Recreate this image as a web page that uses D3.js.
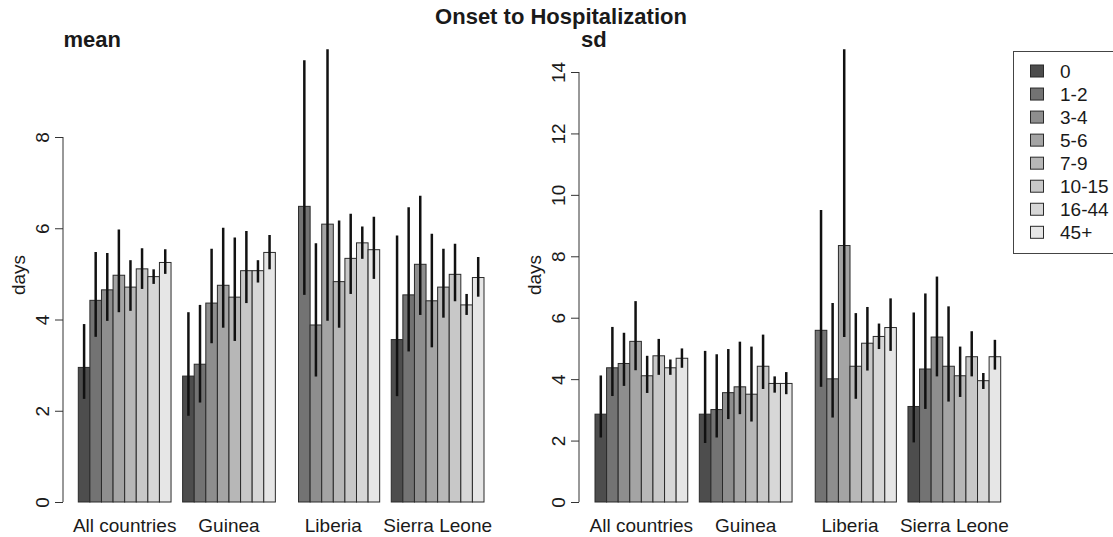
<!DOCTYPE html>
<html>
<head>
<meta charset="utf-8">
<script src="https://cdn.jsdelivr.net/npm/d3@7"></script>
<style>
  body { margin: 0; background: #fff; }
  svg { display: block; font-family: "Liberation Sans", Arial, sans-serif; }
</style>
</head>
<body>
<svg id="svg" width="1113" height="537"></svg>
<script>
// age groups and countries
const ages = ["0", "1-2", "3-4", "5-6", "7-9", "10-15", "16-44", "45+"];
const countries = ["All countries", "Guinea", "Liberia", "Sierra Leone"];

// mean onset-to-hospitalization (days), one row per country, null = no data
const meanVal = [
  [2.95, 4.42, 4.65, 4.97, 4.71, 5.11, 4.94, 5.25],
  [2.76, 3.02, 4.36, 4.75, 4.49, 5.07, 5.07, 5.47],
  [null, 6.48, 3.88, 6.09, 4.83, 5.34, 5.68, 5.53],
  [3.56, 4.54, 5.21, 4.41, 4.71, 4.99, 4.32, 4.92]
];
const meanLow = [
  [2.26, 3.62, 3.97, 4.16, 4.19, 4.67, 4.78, 5.00],
  [1.89, 2.18, 3.48, 3.82, 3.53, 4.36, 4.81, 5.10],
  [null, 4.54, 2.75, 3.97, 3.82, 4.56, 5.33, 4.89],
  [2.32, 3.30, 4.10, 3.39, 4.04, 4.40, 4.10, 4.50]
];
const meanHigh = [
  [3.90, 5.48, 5.46, 5.97, 5.30, 5.56, 5.10, 5.54],
  [4.16, 4.32, 5.55, 6.01, 5.80, 5.94, 5.30, 5.85],
  [null, 9.68, 5.67, 10.5, 6.17, 6.32, 6.04, 6.25],
  [5.84, 6.46, 6.71, 5.88, 5.55, 5.66, 4.56, 5.37]
];

// sd of onset-to-hospitalization (days)
const sdVal = [
  [2.86, 4.37, 4.51, 5.23, 4.11, 4.76, 4.37, 4.68],
  [2.86, 3.01, 3.56, 3.75, 3.51, 4.42, 3.86, 3.86],
  [null, 5.59, 4.01, 8.35, 4.42, 5.17, 5.39, 5.68],
  [3.11, 4.33, 5.37, 4.42, 4.11, 4.73, 3.95, 4.73]
];
const sdLow = [
  [2.10, 3.45, 3.78, 4.29, 3.55, 4.14, 4.14, 4.37],
  [1.92, 2.10, 2.70, 2.86, 2.62, 3.68, 3.56, 3.51],
  [null, 3.75, 2.75, 5.37, 3.36, 4.28, 4.98, 4.92],
  [1.94, 3.03, 4.09, 3.27, 3.42, 4.09, 3.68, 4.31]
];
const sdHigh = [
  [4.12, 5.70, 5.51, 6.54, 4.76, 5.31, 4.64, 5.00],
  [4.92, 4.81, 4.98, 5.22, 5.06, 5.45, 4.09, 4.23],
  [null, 9.51, 6.48, 16.0, 6.15, 6.35, 5.81, 6.63],
  [6.17, 6.79, 7.34, 6.37, 5.06, 5.56, 4.20, 5.28]
];

const meanTicks = [0, 2, 4, 6, 8];
const sdTicks = [0, 2, 4, 6, 8, 10, 12, 14];

const fills = ["#4d4d4d", "#737373", "#8e8e8e", "#a4a4a4", "#b7b7b7", "#c8c8c8", "#d7d7d7", "#e6e6e6"];
const ink = "#1a1a1a";

var svg = d3.select("#svg");
var plotTop = 49.3, baseY = 502;

svg.append("text")
    .attr("x", 561)
    .attr("y", 23.5)
    .attr("text-anchor", "middle")
    .attr("font-weight", "bold")
    .attr("font-size", 22)
    .attr("fill", ink)
    .text("Onset to Hospitalization");

var drawPanel = function(id, vals, lows, highs, ticks, axisX, xRange, title) {
  // bar slots: 8 bars per country + 1 gap before each group (R barplot, space = c(0,1))
  var x = d3.scaleLinear().domain([1, 36]).range(xRange);
  var y = d3.scaleLinear().domain([0, ticks[ticks.length - 1]]).range([baseY, id === "mean" ? 137 : 72]);
  var w = x(2) - x(1);

  var g = svg.append("g");

  svg.append("clipPath")
      .attr("id", "clip-" + id)
    .append("rect")
      .attr("x", axisX)
      .attr("y", plotTop)
      .attr("width", xRange[1] - axisX + 20)
      .attr("height", 520 - plotTop);

  var rows = [];
  countries.forEach(function(c, ci) {
    ages.forEach(function(a, ai) {
      if (vals[ci][ai] == null) return;
      rows.push({slot: 1 + ci * 9 + ai, age: ai, v: vals[ci][ai], lo: lows[ci][ai], hi: highs[ci][ai]});
    });
  });

  var plot = g.append("g").attr("clip-path", "url(#clip-" + id + ")");

  plot.selectAll("rect.bar")
    .data(rows)
    .join("rect")
      .attr("class", "bar")
      .attr("x", d => x(d.slot))
      .attr("y", d => y(d.v))
      .attr("width", w)
      .attr("height", d => y(0) - y(d.v))
      .attr("fill", d => fills[d.age])
      .attr("stroke", "#2a2a2a")
      .attr("stroke-width", 1);

  plot.selectAll("line.err")
    .data(rows)
    .join("line")
      .attr("class", "err")
      .attr("x1", d => x(d.slot) + w / 2)
      .attr("x2", d => x(d.slot) + w / 2)
      .attr("y1", d => y(d.lo))
      .attr("y2", d => y(d.hi))
      .attr("stroke", "#111")
      .attr("stroke-width", 2.5);

  // y axis, R style: line only spans the ticks, labels parallel to axis
  var ax = g.append("g")
      .attr("transform", "translate(" + axisX + ",0)")
      .call(d3.axisLeft(y).tickValues(ticks).tickSize(8).tickSizeOuter(0).tickFormat(d3.format("d")));
  ax.select(".domain").remove();
  ax.selectAll(".tick line").attr("stroke", "#333");
  ax.append("line")
      .attr("y1", y(ticks[0]))
      .attr("y2", y(ticks[ticks.length - 1]))
      .attr("stroke", "#333");
  ax.selectAll(".tick text")
      .attr("x", null)
      .attr("dy", null)
      .attr("transform", "translate(-14,0) rotate(-90)")
      .attr("text-anchor", "middle")
      .attr("font-family", null)
      .attr("font-size", 19)
      .attr("fill", ink);

  g.append("text")
      .attr("transform", "translate(" + (axisX - 38) + ",275) rotate(-90)")
      .attr("text-anchor", "middle")
      .attr("font-size", 19)
      .attr("fill", ink)
      .text("days");

  // country labels under each group
  g.selectAll("text.country")
    .data(countries)
    .join("text")
      .attr("class", "country")
      .attr("x", (d, i) => (x(1 + i * 9) + x(9 + i * 9)) / 2)
      .attr("y", 531.5)
      .attr("text-anchor", "middle")
      .attr("font-size", 19)
      .attr("fill", ink)
      .text(d => d);

  g.append("text")
      .attr("x", title === "mean" ? axisX + 0.5 : axisX + 2)
      .attr("y", 46.5)
      .attr("font-weight", "bold")
      .attr("font-size", 22)
      .attr("fill", ink)
      .text(title);
};

drawPanel("mean", meanVal, meanLow, meanHigh, meanTicks, 63, [78.3, 484], "mean");
drawPanel("sd", sdVal, sdLow, sdHigh, sdTicks, 579, [595, 1000.7], "sd");

// legend
var legend = svg.append("g");
legend.append("rect")
    .attr("x", 1013.5)
    .attr("y", 51.5)
    .attr("width", 200)
    .attr("height", 202)
    .attr("fill", "none")
    .attr("stroke", "#444");

var ly = d3.scalePoint().domain(ages).range([71, 232.3]);

legend.selectAll("rect.key")
  .data(ages)
  .join("rect")
    .attr("class", "key")
    .attr("x", 1030.5)
    .attr("y", d => ly(d) - 6)
    .attr("width", 13)
    .attr("height", 12)
    .attr("fill", (d, i) => fills[i])
    .attr("stroke", "#2a2a2a");

legend.selectAll("text.key")
  .data(ages)
  .join("text")
    .attr("class", "key")
    .attr("x", 1060)
    .attr("y", d => ly(d) + 7)
    .attr("font-size", 19)
    .attr("fill", ink)
    .text(d => d);
</script>
</body>
</html>
